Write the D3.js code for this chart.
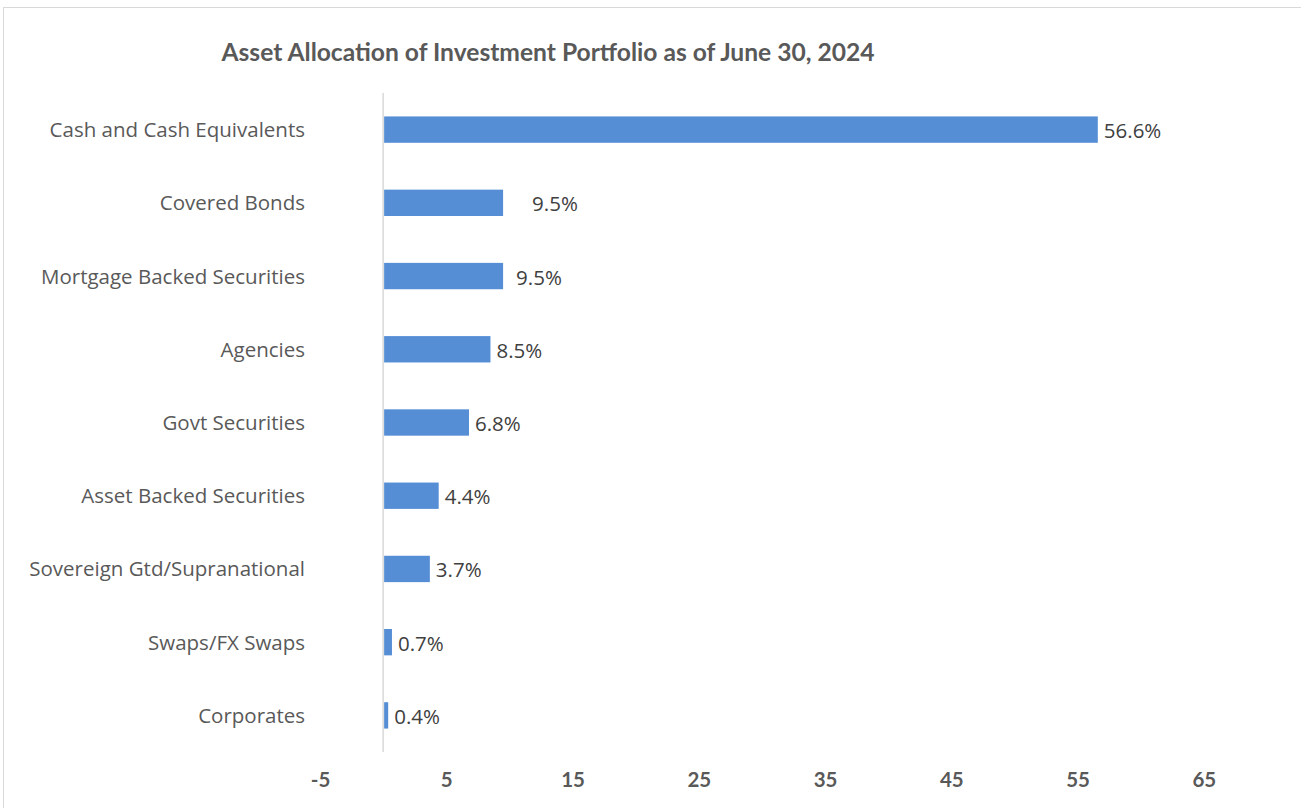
<!DOCTYPE html>
<html>
<head>
<meta charset="utf-8">
<script src="https://cdn.jsdelivr.net/npm/d3@7"></script>
<style>
  body { margin: 0; background: #fff; }
</style>
</head>
<body>
<svg id="chart" width="1301" height="808"></svg>
<script>
const categories = [
    'Cash and Cash Equivalents', 'Covered Bonds', 'Mortgage Backed Securities',
    'Agencies', 'Govt Securities', 'Asset Backed Securities',
    'Sovereign Gtd/Supranational', 'Swaps/FX Swaps', 'Corporates'
]
const values = [56.6, 9.5, 9.5, 8.5, 6.8, 4.4, 3.7, 0.7, 0.4]
const tickValues = [-5, 5, 15, 25, 35, 45, 55, 65]
const title = 'Asset Allocation of Investment Portfolio as of June 30, 2024'

const svg = d3.select('#chart')

// outer frame like the Excel chart area
svg.append('rect')
    .attr('x', 3.5).attr('y', 7.5)
    .attr('width', 1310).attr('height', 820)
    .attr('fill', 'none')
    .attr('stroke', '#d9d9d9')

const x = d3.scaleLinear()
    .domain([-5, 70])
    .range([320, 1267])

const y = d3.scaleBand()
    .domain(categories)
    .range([93, 752])
    .paddingInner(0.64)
    .paddingOuter(0.32)

svg.append('text')
    .attr('x', 548)
    .attr('y', 61)
    .attr('text-anchor', 'middle')
    .attr('font-family', 'Lato, sans-serif')
    .attr('font-weight', 'bold')
    .attr('font-size', 24.6)
    .attr('fill', '#595959')
    .text(title)

// vertical axis line at zero
svg.append('line')
    .attr('x1', x(0)).attr('x2', x(0))
    .attr('y1', 93).attr('y2', 752)
    .attr('stroke', '#d9d9d9')
    .attr('stroke-width', 1.5)

svg.append('g')
    .selectAll('rect')
    .data(values)
    .join('rect')
        .attr('x', x(0) + 1)
        .attr('y', (d, i) => y(categories[i]))
        .attr('width', d => x(d) - x(0) - 1)
        .attr('height', y.bandwidth())
        .attr('fill', '#558ed5')

// two labels were nudged further out in the original
const labelGap = {1: 29, 2: 13}

svg.append('g')
    .selectAll('text')
    .data(values)
    .join('text')
        .attr('x', (d, i) => x(d) + (labelGap[i] || 6))
        .attr('y', (d, i) => y(categories[i]) + y.bandwidth() / 2 + 3)
        .attr('dominant-baseline', 'middle')
        .attr('font-family', '"Open Sans", sans-serif')
        .attr('font-size', 20.5)
        .attr('fill', '#404040')
        .text(d => d.toFixed(1) + '%')

svg.append('g')
    .selectAll('text')
    .data(categories)
    .join('text')
        .attr('x', 305)
        .attr('y', d => y(d) + y.bandwidth() / 2 + 2)
        .attr('text-anchor', 'end')
        .attr('dominant-baseline', 'middle')
        .attr('font-family', '"Open Sans", sans-serif')
        .attr('font-size', 20.5)
        .attr('fill', '#595959')
        .text(d => d)

const xAxis = d3.axisBottom(x)
    .tickValues(tickValues)
    .tickFormat(d => String(d))
    .tickSize(0)
    .tickPadding(0)

const gx = svg.append('g')
    .attr('transform', 'translate(0,772)')
    .call(xAxis)
gx.select('.domain').remove()
gx.selectAll('text')
    .attr('font-family', 'Lato, sans-serif')
    .attr('font-weight', 'bold')
    .attr('font-size', 20.5)
    .attr('fill', '#595959')
</script>
</body>
</html>
